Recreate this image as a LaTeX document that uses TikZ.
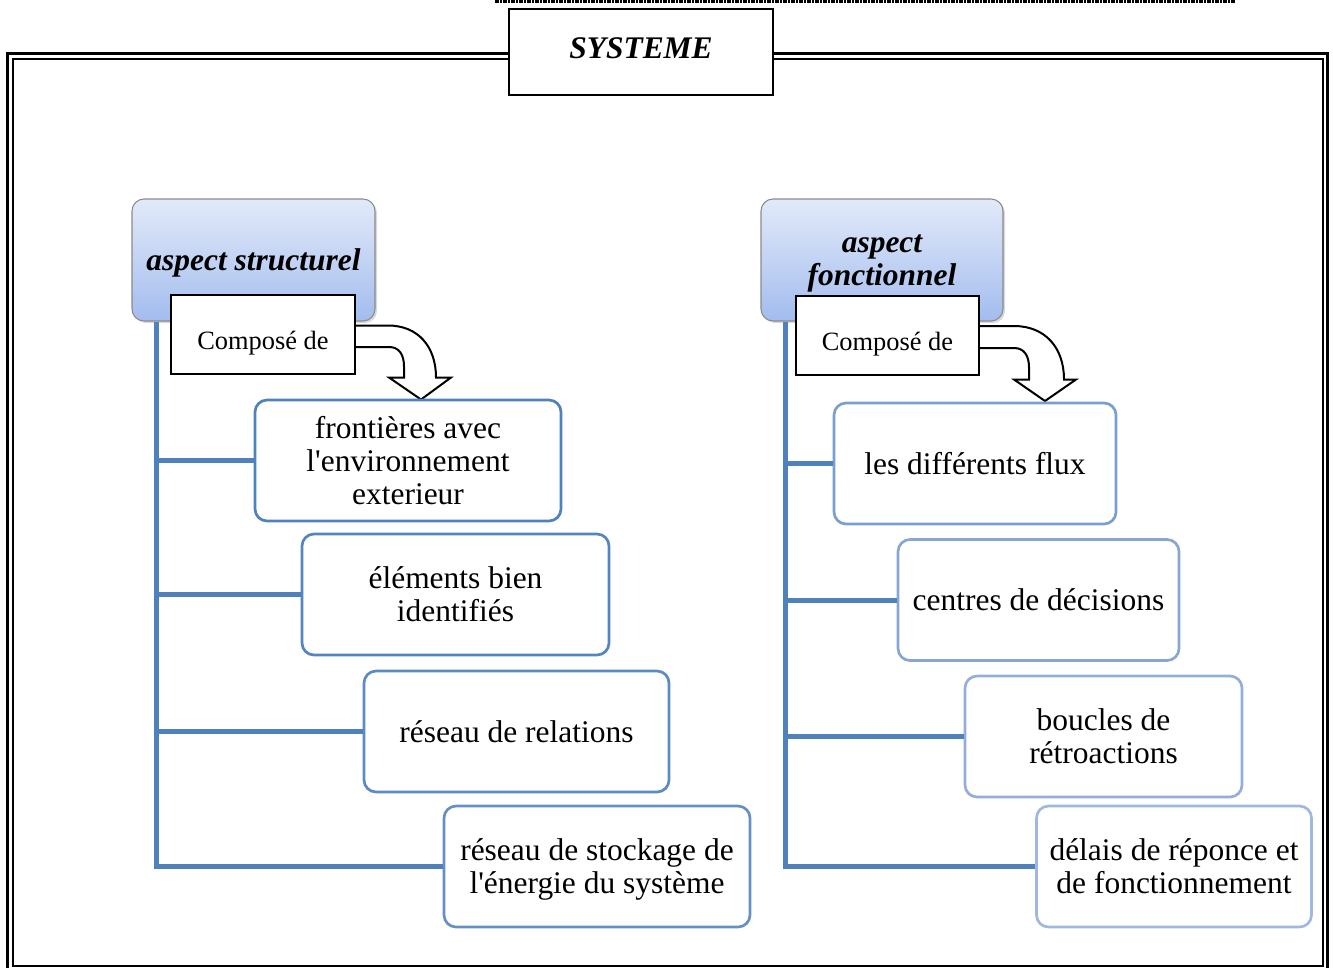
\documentclass[tikz,border=0pt]{standalone}
\usepackage{fontspec}
\setmainfont{Liberation Serif}[Ligatures=TeXOff]
\usetikzlibrary{calc,shadows}
\definecolor{lineblue}{HTML}{4F81BD}
\definecolor{lbA}{HTML}{4F81BD}
\definecolor{lbB}{HTML}{5585C0}
\definecolor{lbC}{HTML}{5C8AC3}
\definecolor{lbD}{HTML}{6590C6}
\definecolor{rbA}{HTML}{7C9DD0}
\definecolor{rbB}{HTML}{87A6D4}
\definecolor{rbC}{HTML}{92AED9}
\definecolor{rbD}{HTML}{A0B8DE}
\definecolor{asptop}{HTML}{E2EAF9}
\definecolor{aspbot}{HTML}{A3BCEE}
\definecolor{aspborder}{HTML}{8A8A8A}
\tikzset{
  childbox/.style={font=\fontsize{23.6}{24.75}\selectfont, align=center, draw, line width=2pt,
    rounded corners=9pt, fill=white, minimum height=90.75pt, inner sep=0pt},
  aspectbox/.style={font=\fontsize{23.6}{24.75}\selectfont\bfseries\itshape, align=center,
    draw=aspborder, line width=0.8pt, rounded corners=9pt, top color=asptop, bottom color=aspbot,
    minimum width=182pt, minimum height=91.5pt, inner sep=0pt, text depth=0.5pt,
    drop shadow={opacity=0.3, shadow xshift=1.5pt, shadow yshift=-1.5pt}},
  compbox/.style={draw, line width=1.5pt, fill=white, font=\fontsize{19.8}{22}\selectfont,
    minimum height=59.25pt, text height=25pt, text depth=3pt, inner sep=0pt},
  sysbox/.style={draw, line width=1.5pt, fill=white, font=\fontsize{23.6}{24.75}\selectfont\bfseries\itshape,
    minimum width=198pt, minimum height=64.5pt, text depth=6pt, inner sep=0pt},
  conn/.style={draw=lineblue, line width=3.75pt, line join=miter},
  bendarrow/.style={draw=black, fill=white, line width=1.5pt, line join=miter},
  framethick/.style={draw=black, line width=2.25pt},
  framethin/.style={draw=black, line width=1.5pt},
}
\begin{document}
\begin{tikzpicture}[x=0.75pt,y=-0.75pt]
\useasboundingbox (0,0) rectangle (1333,967);
% page frame
\draw[framethick] (7.5,990) -- (7.5,53.5) -- (1327.5,53.5) -- (1327.5,990);
\draw[framethin] (13,59) rectangle (1322.5,965.5);
\draw[line width=1.5pt, dash pattern=on 3pt off 1pt on 1pt off 1pt] (495,1.5) -- (1235,1.5);
% title
\node[sysbox] (sys) at (641,52) {SYSTEME};
% aspect structurel
\node[aspectbox, minimum width=182.25pt] (a1) at (253.5,260) {aspect structurel};
\node[compbox, minimum width=138pt] (c1) at (263,334.5) {Composé de};
\begin{scope}[shift={(c1.east)}]
\draw[bendarrow] (0,-9) -- (32,-9) .. controls (62,-9) and (80,12) .. (80,43) -- (95,43) -- (65,65) -- (33,43) -- (48,43) -- (48,32) .. controls (48,20) and (43,12.5) .. (33,12.5) -- (0,12.5);
\end{scope}
\node[childbox, draw=lbA, minimum width=229.5pt] (b1) at (408,460.5) {frontières avec\\l'environnement\\exterieur};
\node[childbox, draw=lbB, minimum width=230.25pt] (b2) at (455.5,594.5) {éléments bien\\identifiés};
\node[childbox, draw=lbC, minimum width=228.75pt] (b3) at (516.5,731.5) {réseau de relations};
\node[childbox, draw=lbD, minimum width=229.5pt, text depth=0pt] (b4) at (597,866.5) {réseau de stockage de\\l'énergie du système};
\coordinate (v1) at ($(a1.south west)+(25,0)$);
\draw[conn] (v1) |- (b4.west);
\draw[conn] (b1.west) -- (b1.west -| v1);
\draw[conn] (b2.west) -- (b2.west -| v1);
\draw[conn] (b3.west) -- (b3.west -| v1);
% aspect fonctionnel
\node[aspectbox, minimum width=181.5pt] (a2) at (882,260) {aspect\\fonctionnel};
\node[compbox, minimum width=137.25pt] (c2) at (887.5,335.5) {Composé de};
\begin{scope}[shift={(c2.east)}]
\draw[bendarrow] (0,-9.5) -- (34,-9.5) .. controls (65,-9.5) and (84,12) .. (84,44) -- (96,44) -- (65,65.5) -- (34,44) -- (49,44) -- (49,32) .. controls (49,20) and (44,12.5) .. (34,12.5) -- (0,12.5);
\end{scope}
\node[childbox, draw=rbA, minimum width=211.5pt] (r1) at (975,463.5) {les différents flux};
\node[childbox, draw=rbB, minimum width=210.75pt] (r2) at (1038.5,600) {centres de décisions};
\node[childbox, draw=rbC, minimum width=207.75pt] (r3) at (1103.5,736.5) {boucles de\\rétroactions};
\node[childbox, draw=rbD, minimum width=206.25pt] (r4) at (1174,866.5) {délais de réponce et\\de fonctionnement};
\coordinate (v2) at ($(a2.south west)+(25,0)$);
\draw[conn] (v2) |- (r4.west);
\draw[conn] (r1.west) -- (r1.west -| v2);
\draw[conn] (r2.west) -- (r2.west -| v2);
\draw[conn] (r3.west) -- (r3.west -| v2);
\end{tikzpicture}
\end{document}
